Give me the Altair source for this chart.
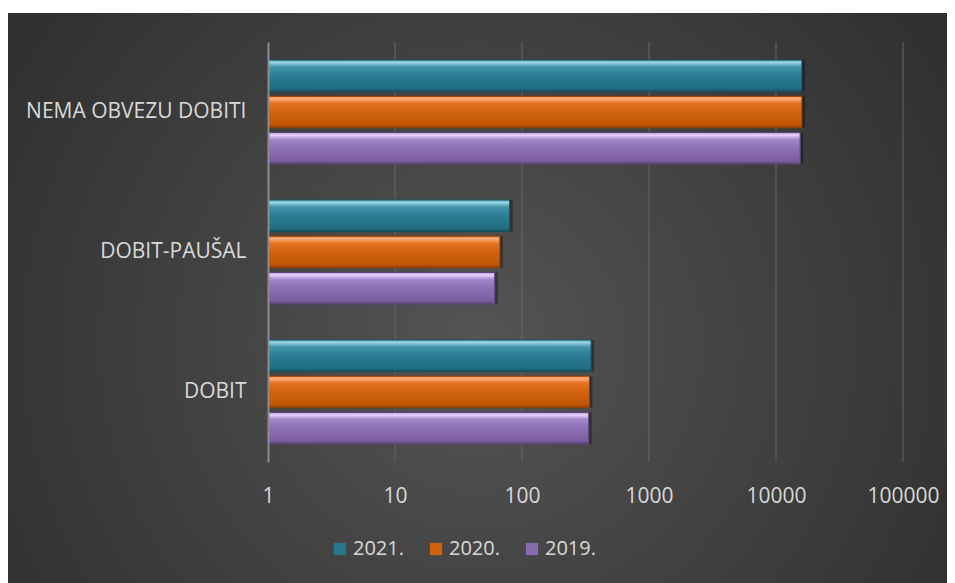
import altair as alt
import pandas as pd

categories = ["NEMA OBVEZU DOBITI", "DOBIT-PAUŠAL", "DOBIT"]
series = ["2021.", "2020.", "2019."]
v2021 = [16000, 80, 350]
v2020 = [16000, 67, 340]
v2019 = [15500, 61, 335]
ticks = [1, 10, 100, 1000, 10000, 100000]
grid_vals = [10, 100, 1000, 10000, 100000]

rows = []
for i, c in enumerate(categories):
    for s, vals in zip(series, [v2021, v2020, v2019]):
        rows.append({"cat": c, "year": s, "value": vals[i]})
df = pd.DataFrame(rows)

base_colors = ["#26778d", "#cf600c", "#8a6bb2"]
grads = {
    "2021.": [("#5fb2c8", 0), ("#95d4e5", 0.08), ("#4595ab", 0.22), ("#2a7d94", 0.5), ("#216d82", 0.9), ("#174f60", 1)],
    "2020.": [("#f08a4a", 0), ("#ffae7c", 0.08), ("#e47424", 0.22), ("#d2630e", 0.5), ("#c05606", 0.9), ("#8f3f05", 1)],
    "2019.": [("#b898dc", 0), ("#ebd2fd", 0.08), ("#a486ca", 0.22), ("#8d6fb5", 0.5), ("#7c5ea0", 0.9), ("#5a4478", 1)],
}
strokes = {"2021.": "#174f60", "2020.": "#8f3f05", "2019.": "#5a4478"}

W, H = 635, 420
PL, PT, PR, PB = 260, 34, 44, 121
TOTW, TOTH = PL + W + PR, PT + H + PB

xscale = alt.Scale(type="log", domain=[1, 100000])
yenc = alt.Y("cat:N", sort=categories, title=None,
             scale=alt.Scale(paddingInner=0.257, paddingOuter=0.129),
             axis=alt.Axis(labelColor="#d9d9d9", labelFont="Open Sans", labelFontSize=21,
                           labelPadding=22, labelLimit=400, ticks=False, domainColor="#8c8c8c",
                           domainWidth=2, grid=False, zindex=1))
yoff = alt.YOffset("year:N", sort=series, scale=alt.Scale(paddingInner=0.13, paddingOuter=0))

bg = alt.Chart(pd.DataFrame({"a": [0]})).mark_rect(
    fill={"gradient": "radial", "x1": 0.5, "y1": 0.55, "r1": 0, "x2": 0.5, "y2": 0.55, "r2": 0.75,
          "stops": [{"offset": 0, "color": "#545454"}, {"offset": 1, "color": "#262626"}]}
).encode(x=alt.value(-PL - 1), x2=alt.value(TOTW - PL), y=alt.value(-PT + 5), y2=alt.value(TOTH - PT))

grid = alt.Chart(pd.DataFrame({"g": grid_vals})).mark_rule(color="#666666", strokeWidth=1).encode(
    x=alt.X("g:Q", scale=xscale), y=alt.value(0), y2=alt.value(H))

xaxis = alt.Axis(values=ticks, format="d", labelColor="#d9d9d9", labelFont="Open Sans",
                 labelFontSize=21, labelPadding=23, ticks=False, domain=False, grid=False,
                 labelFlush=False, labelOverlap=False, zindex=1)

xenc = alt.X("value:Q", scale=xscale, axis=xaxis, title=None)
x2enc = alt.X2(datum=1)

shadow = alt.Chart(df).mark_bar(color="#000000", opacity=0.35, xOffset=3, yOffset=3).encode(
    x=xenc, x2=x2enc, y=yenc, yOffset=yoff)

legend_layer = alt.Chart(df).mark_bar().encode(
    x=xenc, x2=x2enc, y=yenc, yOffset=yoff,
    color=alt.Color("year:N", sort=series,
                    scale=alt.Scale(domain=series, range=base_colors),
                    legend=alt.Legend(title=None, orient="none", direction="horizontal",
                                      legendX=62, legendY=497, symbolType="square",
                                      symbolSize=150, labelColor="#d9d9d9", labelFont="Open Sans",
                                      labelFontSize=20, columnPadding=22, labelOffset=3,
                                      symbolStrokeWidth=0)))

layers = [bg, grid, shadow, legend_layer]
for s in series:
    stops = [{"offset": o, "color": c} for c, o in grads[s]]
    layers.append(
        alt.Chart(df).transform_filter(alt.datum.year == s).mark_bar(
            fill={"gradient": "linear", "x1": 0, "y1": 0, "x2": 0, "y2": 1, "stops": stops},
            stroke=strokes[s], strokeWidth=1
        ).encode(x=xenc, x2=x2enc, y=yenc, yOffset=yoff)
    )

chart = alt.layer(*layers).properties(
    width=W, height=H,
    autosize=alt.AutoSizeParams(type="none"),
    padding={"left": PL, "top": PT, "right": PR, "bottom": PB},
    background="white",
).configure_view(stroke=None)

chart.save("out.html", embed_options={"renderer": "svg", "actions": False})
